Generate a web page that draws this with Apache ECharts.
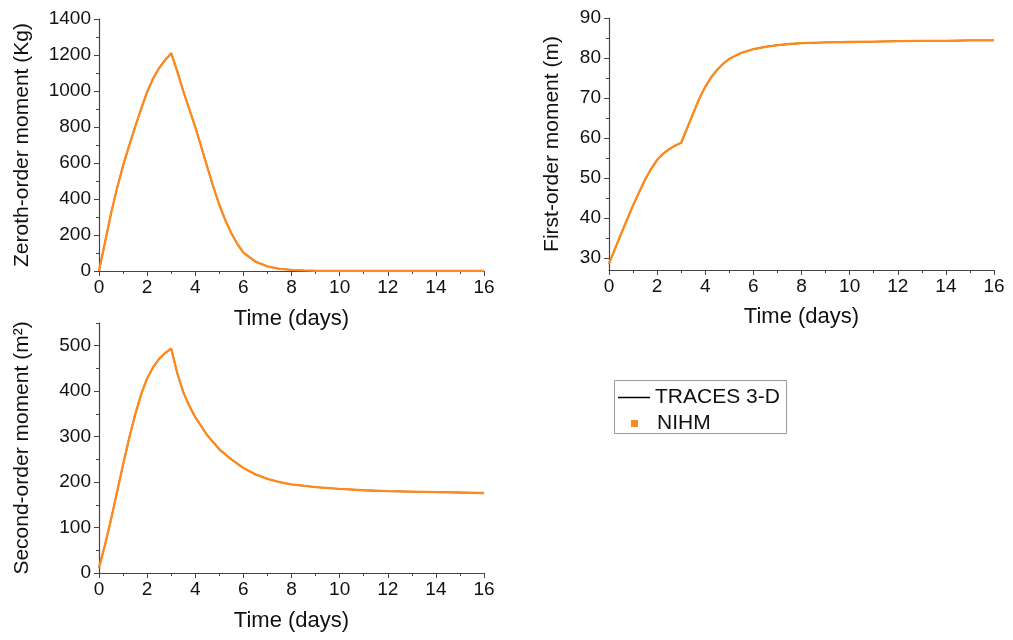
<!DOCTYPE html>
<html>
<head>
<meta charset="utf-8">
<script src="https://cdn.jsdelivr.net/npm/echarts@6/dist/echarts.min.js"></script>
<style>
  html, body { margin: 0; padding: 0; background: #fff; }
  #chart { width: 1013px; height: 640px; }
</style>
</head>
<body>
<div id="chart"></div>
<script>
// Zeroth-order moment (total mass, Kg) against time (days)
const zerothTime = [0, 0.25, 0.5, 0.75, 1, 1.25, 1.5, 1.75, 2, 2.25, 2.5, 2.75, 3,
  3.25, 3.5, 3.75, 4, 4.25, 4.5, 4.75, 5, 5.25, 5.5, 5.75, 6, 6.5, 7, 7.5, 8, 8.5, 9, 10, 11, 12, 13, 14, 15, 16];
const zerothMass = [0, 160, 320, 460, 585, 695, 800, 900, 995, 1070, 1128, 1172, 1210,
  1110, 1000, 900, 800, 690, 578, 468, 368, 282, 210, 150, 102, 52, 26, 12, 6, 3, 1.5, 0.5, 0, 0, 0, 0, 0, 0];

// First-order moment (centre of mass, m)
const firstTime = [0, 0.5, 1, 1.5, 1.75, 2, 2.25, 2.5, 2.75, 3, 3.25, 3.5, 3.75, 4, 4.25, 4.5, 4.75, 5, 5.5, 6, 6.5,
  7, 7.5, 8, 9, 10, 11, 12, 13, 14, 15, 16];
const firstMean = [28.6, 36.0, 43.2, 49.6, 52.3, 54.5, 56.1, 57.2, 58.1, 58.8, 62.5, 66.2, 69.8, 72.8, 75.2, 77.1, 78.6, 79.8, 81.3, 82.2, 82.8,
  83.2, 83.5, 83.7, 83.9, 84.0, 84.1, 84.2, 84.3, 84.3, 84.4, 84.4];

// Second-order moment (spread, m²)
const secondTime = [0, 0.25, 0.5, 0.75, 1, 1.25, 1.5, 1.75, 2, 2.25, 2.5, 2.75, 3,
  3.25, 3.5, 3.75, 4, 4.5, 5, 5.5, 6, 6.5, 7, 7.5, 8, 9, 10, 11, 12, 13, 14, 15, 16];
const secondVar = [12, 62, 118, 178, 238, 296, 348, 393, 428, 453, 471, 484, 494,
  440, 398, 368, 343, 303, 272, 250, 231, 217, 207, 200, 195, 189, 185, 182, 180, 179, 178, 177, 176];

// Axis tick values
const timeTicks = [0, 2, 4, 6, 8, 10, 12, 14, 16];
const zerothMajor = [0, 200, 400, 600, 800, 1000, 1200, 1400];
const zerothMinor = [100, 300, 500, 700, 900, 1100, 1300];
const firstMajor = [30, 40, 50, 60, 70, 80, 90];
const firstMinor = [35, 45, 55, 65, 75, 85];
const secondMajor = [0, 100, 200, 300, 400, 500];
const secondMinor = [50, 150, 250, 350, 450, 550];

const seriesNames = ['TRACES 3-D', 'NIHM'];
const FONT = "'Liberation Sans', Arial, sans-serif";
const AXIS_COLOR = '#444';
const TEXT_COLOR = '#111';
const ORANGE = '#FF8A1C';

const pairs = (xs, ys) => xs.map((x, i) => [x, ys[i]]);
const plain = (v) => String(v);

function timeAxis(grid, gap) {
  return {
    type: 'value', gridIndex: grid, min: 0, max: 16, interval: 2,
    name: 'Time (days)', nameLocation: 'middle', nameGap: gap,
    nameTextStyle: { fontSize: 22, color: TEXT_COLOR, fontFamily: FONT },
    axisLine: { show: true, onZero: false, lineStyle: { color: AXIS_COLOR, width: 1.2 } },
    axisTick: { show: true, length: 5, lineStyle: { color: AXIS_COLOR, width: 1 } },
    minorTick: { show: true, splitNumber: 2, length: 3, lineStyle: { color: AXIS_COLOR, width: 1 } },
    axisLabel: { fontSize: 19, color: TEXT_COLOR, fontFamily: FONT, margin: 7,
      customValues: timeTicks, formatter: plain },
    splitLine: { show: false }, minorSplitLine: { show: false }
  };
}

// A labelled axis plus a second, bare axis on the same grid carrying the minor ticks
function valueAxes(grid, min, max, majors, minors, name, gap) {
  return [
    {
      type: 'value', gridIndex: grid, position: 'left', min: min, max: max,
      name: name, nameLocation: 'middle', nameGap: gap,
      nameTextStyle: { fontSize: 21, color: TEXT_COLOR, fontFamily: FONT },
      axisLine: { show: true, onZero: false, lineStyle: { color: AXIS_COLOR, width: 1.2 } },
      axisTick: { show: true, length: 5, customValues: majors, lineStyle: { color: AXIS_COLOR, width: 1 } },
      axisLabel: { customValues: majors, formatter: plain, fontSize: 19, color: TEXT_COLOR, fontFamily: FONT, margin: 8 },
      splitLine: { show: false }
    },
    {
      type: 'value', gridIndex: grid, position: 'left', min: min, max: max,
      axisLine: { show: false },
      axisTick: { show: true, length: 3, customValues: minors, lineStyle: { color: AXIS_COLOR, width: 1 } },
      axisLabel: { show: false },
      splitLine: { show: false }
    }
  ];
}

function panelSeries(grid, yIndex, data) {
  return [
    {
      name: seriesNames[0], type: 'line', xAxisIndex: grid, yAxisIndex: yIndex,
      data: data, showSymbol: false, z: 2,
      lineStyle: { color: '#000', width: 1.4 }, itemStyle: { color: '#000' }
    },
    {
      name: seriesNames[1], type: 'line', xAxisIndex: grid, yAxisIndex: yIndex,
      data: data, showSymbol: false, z: 3,
      lineStyle: { color: ORANGE, width: 2.3 }, itemStyle: { color: ORANGE }
    }
  ];
}

const chart = echarts.init(document.getElementById('chart'), null, { renderer: 'canvas' });

chart.setOption({
  backgroundColor: '#fff',
  animation: false,
  textStyle: { fontFamily: FONT },
  grid: [
    { left: 99, top: 19, width: 385, height: 252 },
    { left: 609, top: 18, width: 385, height: 252 },
    { left: 99, top: 323, width: 385, height: 250 }
  ],
  xAxis: [timeAxis(0, 37), timeAxis(1, 36), timeAxis(2, 37)],
  yAxis: [
    ...valueAxes(0, 0, 1400, zerothMajor, zerothMinor, 'Zeroth-order moment (Kg)', 66),
    ...valueAxes(1, 27, 90, firstMajor, firstMinor, 'First-order moment (m)', 46),
    ...valueAxes(2, 0, 550, secondMajor, secondMinor, 'Second-order moment (m²)', 66)
  ],
  legend: [
    {
      left: 613, top: 382, selectedMode: false,
      itemWidth: 32, itemHeight: 1.5,
      textStyle: { fontSize: 21, color: TEXT_COLOR, fontFamily: FONT },
      data: [{ name: seriesNames[0], icon: 'rect', itemStyle: { color: '#000' } }]
    },
    {
      left: 626, top: 408, selectedMode: false,
      itemWidth: 7, itemHeight: 7,
      textStyle: { fontSize: 21, color: TEXT_COLOR, fontFamily: FONT, padding: [0, 0, 0, 14] },
      data: [{ name: seriesNames[1], icon: 'rect', itemStyle: { color: ORANGE } }]
    }
  ],
  graphic: [
    {
      type: 'rect', left: 612, top: 378, z: 0,
      shape: { width: 172, height: 53 },
      style: { fill: 'none', stroke: '#9a9a9a', lineWidth: 1 }
    }
  ],
  series: [
    ...panelSeries(0, 0, pairs(zerothTime, zerothMass)),
    ...panelSeries(1, 2, pairs(firstTime, firstMean)),
    ...panelSeries(2, 4, pairs(secondTime, secondVar))
  ]
});
</script>
</body>
</html>
